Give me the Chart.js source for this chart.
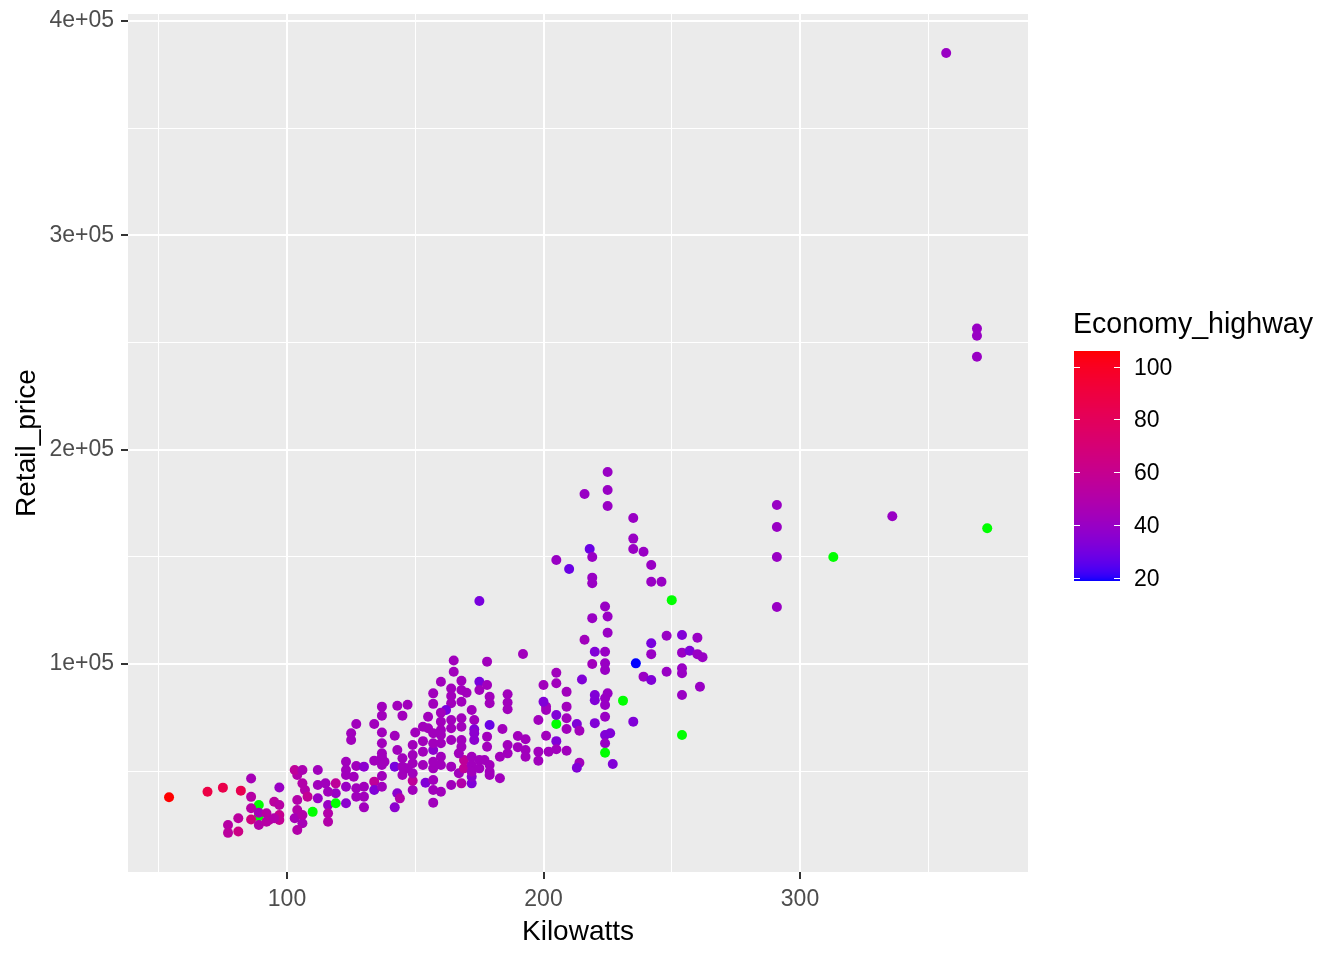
<!DOCTYPE html>
<html><head><meta charset="utf-8">
<script src="https://cdn.jsdelivr.net/npm/chart.js@4.4.1/dist/chart.umd.min.js"></script>
<style>html,body{margin:0;padding:0;background:#fff;}#wrap{width:1344px;height:960px;position:relative;}</style>
</head><body><div id="wrap"><canvas id="c" width="1344" height="960"></canvas></div>
<script>
const kilowatts = [
54,69,75,82,86,97,86,89,89,86,
86,81,77,77,81,89,93,95,97,97,
97,89,92,92,95,104,106,107,104,104,
103,106,104,108,110,112,112,115,116,116,
116,119,119,119,123,123,123,126,127,103,
106,112,106,116,123,127,130,123,127,130,
130,130,134,134,137,127,134,125,125,137,
143,147,137,145,157,157,137,142,150,155,
153,137,137,143,149,149,153,153,157,145,
134,138,142,147,149,153,157,143,144,142,
149,154,157,157,149,149,137,137,137,145,
145,157,157,160,164,168,172,160,160,164,
167,169,169,172,172,175,175,172,177,183,
179,183,192,165,178,165,160,168,168,175,
178,175,170,164,164,164,179,179,186,186,
186,168,162,160,160,160,164,164,168,168,
172,173,173,179,184,178,178,190,193,193,
193,186,155,157,160,160,157,164,168,168,
167,173,173,190,186,179,179,198,198,202,
205,205,209,201,198,205,213,209,214,220,
205,209,201,201,209,200,220,220,209,200,
205,215,205,219,220,216,214,213,172,225,
225,216,225,235,235,235,239,218,219,205,
210,242,219,219,242,246,250,224,225,219,
175,225,224,224,224,236,242,242,248,254,
260,254,257,260,262,239,242,248,254,254,
261,254,225,224,224,231,224,235,224,226,
224,224,227,254,291,291,291,291,313,336,
369,369,369,373,357
];
const retailPrice = [
37800,40400,42300,40900,46600,42400,38000,34200,28800,32700,
27400,28000,24900,21200,21800,24900,27200,35700,34200,29500,
27200,30600,30300,26400,28000,48200,44300,41200,36500,31900,
28000,25700,22500,38100,31000,43500,37300,44300,34200,30300,
26400,44300,39700,35000,42700,35000,48200,47400,38100,50500,
50500,50500,29500,40400,54400,52400,52100,50500,42000,42700,
38100,33100,45100,41200,42700,72000,72000,67700,64500,80100,
80500,81000,75900,75900,86300,81400,68000,66500,68000,75400,
70700,63000,58300,59900,62200,57500,64000,59100,59900,56000,
54900,54400,52100,51300,53700,52900,51300,39700,37300,33100,
41200,44600,41200,35300,45500,49000,56700,52900,47700,52100,
48200,54400,45900,40400,43500,44300,44300,56700,52900,52100,
49000,55200,51300,56700,52900,55200,51300,47400,55200,56700,
48200,46700,104700,101600,101100,96400,91700,92200,87900,91700,
90200,87900,86600,88600,85100,81700,84700,81700,85900,82000,
78900,82400,78500,77300,73100,69200,73900,70000,74700,70700,
78500,73900,69500,71500,69700,66100,61400,66400,64900,59900,
56700,62200,70000,67700,66900,63000,63000,64500,64500,61400,
58300,67700,64500,61200,58300,52900,49700,59100,54900,59100,
64000,60200,59500,66500,73900,72000,72000,69700,68900,72400,
76200,74700,80100,78500,80100,82400,85500,83100,87000,90200,
91000,92800,95900,100000,105700,111300,53900,51600,49700,189600,
181200,179300,173700,168100,158500,153700,152400,153700,149900,148500,
144300,146200,140300,137700,138400,138400,129800,126800,122200,121400,
129400,114600,105700,100300,97200,100300,109700,104600,113200,113500,
112300,105300,106200,104600,103200,94100,92500,96400,98000,95700,
89400,85500,86300,84000,80900,82900,75400,73100,66900,67700,
63000,58600,53300,66900,174200,163900,149900,126600,149900,168900,
256500,253200,243400,163300,385100
];
const economyHighway = [
106,88,86,84,45,40,52,null,null,52,
66,54,52,54,64,50,52,54,52,60,
58,45,52,52,50,50,50,50,50,50,
45,45,50,58,null,43,40,43,40,50,
50,56,40,null,40,36,43,43,43,56,
47,43,50,43,43,43,36,43,43,43,
43,43,56,33,43,43,43,43,43,43,
43,43,43,43,43,43,43,43,43,43,
43,43,43,43,43,43,43,43,36,43,
43,43,31,43,43,43,43,36,50,36,
43,33,43,43,56,43,43,43,43,43,
43,43,43,43,43,50,33,43,43,43,
43,56,56,43,43,43,43,36,43,43,
43,43,43,43,43,43,43,43,43,31,
43,43,43,43,43,43,43,43,43,43,
43,43,31,43,43,43,43,43,43,43,
43,43,33,28,43,43,43,43,43,43,
43,43,43,43,43,43,43,43,43,43,
43,36,36,43,43,43,43,43,43,43,
33,43,43,43,43,null,33,43,43,33,
33,43,43,43,43,33,33,33,43,43,
43,33,43,43,33,43,43,33,43,40,
40,40,40,40,40,40,40,28,40,40,
28,40,40,40,40,40,null,40,40,40,
31,40,40,40,40,18.7,31,40,40,33,
40,40,33,40,40,40,33,40,40,40,
40,40,40,40,40,null,40,33,33,33,
40,null,33,null,40,40,40,40,null,40,
40,40,40,null,40
];
const xTickValues = [100, 200, 300];
const xTickLabels = ['100', '200', '300'];
const yTickValues = [100000, 200000, 300000, 400000];
const yTickLabels = ['1e+05', '2e+05', '3e+05', '4e+05'];
const legendTickValues = [20, 40, 60, 80, 100];
const legendTitle = 'Economy_highway';
const xTitle = 'Kilowatts';
const yTitle = 'Retail_price';

const known = economyHighway.filter(v => v !== null);
const cLo = Math.min(...known), cHi = Math.max(...known);

// Lab interpolation blue -> red (like scales::seq_gradient_pal)
function toLin(c){c/=255;return c<=0.04045?c/12.92:Math.pow((c+0.055)/1.055,2.4);}
function fromLin(c){c=c<=0.0031308?12.92*c:1.055*Math.pow(c,1/2.4)-0.055;return Math.max(0,Math.min(255,Math.round(c*255)));}
const Xn=0.95047,Yn=1,Zn=1.08883;
function f(t){return t>0.008856?Math.cbrt(t):7.787*t+16/116;}
function fi(t){const t3=t*t*t;return t3>0.008856?t3:(t-16/116)/7.787;}
function rgb2lab(r,g,b){r=toLin(r);g=toLin(g);b=toLin(b);
 const X=(0.4124*r+0.3576*g+0.1805*b)/Xn,Y=(0.2126*r+0.7152*g+0.0722*b)/Yn,Z=(0.0193*r+0.1192*g+0.9505*b)/Zn;
 const fx=f(X),fy=f(Y),fz=f(Z);return [116*fy-16,500*(fx-fy),200*(fy-fz)];}
function lab2rgb(L,a,bb){const fy=(L+16)/116,fx=fy+a/500,fz=fy-bb/200;
 const X=fi(fx)*Xn,Y=fi(fy)*Yn,Z=fi(fz)*Zn;
 const r=3.2406*X-1.5372*Y-0.4986*Z,g=-0.9689*X+1.8758*Y+0.0415*Z,b=0.0557*X-0.2040*Y+1.0570*Z;
 return [fromLin(r),fromLin(g),fromLin(b)];}
const labLow=rgb2lab(0,0,255), labHigh=rgb2lab(255,0,0);
function colourFor(v){
  if(v===null) return '#00FF00';
  const t=Math.max(0,Math.min(1,(v-cLo)/(cHi-cLo)));
  const c=lab2rgb(labLow[0]+(labHigh[0]-labLow[0])*t,labLow[1]+(labHigh[1]-labLow[1])*t,labLow[2]+(labHigh[2]-labLow[2])*t);
  return `rgb(${c[0]},${c[1]},${c[2]})`;
}

function withMinor(major){
  const step = major[1]-major[0];
  const out=[major[0]-step/2];
  major.forEach(v=>{out.push(v);out.push(v+step/2);});
  return out;
}
const FONT='"Liberation Sans", Arial, sans-serif';

const panelBg = {
  id:'panelBg',
  beforeDraw(chart){const {ctx,chartArea:a}=chart;ctx.save();ctx.fillStyle='#EBEBEB';ctx.fillRect(a.left,a.top,a.right-a.left,a.bottom-a.top);ctx.restore();}
};
const colourBar = {
  id:'colourBar',
  afterDraw(chart){
    const ctx=chart.ctx;ctx.save();
    const x0=1074,x1=1120,yTop=351,yBot=581,h=yBot-yTop;
    ctx.fillStyle='#000';ctx.font='28.6px '+FONT;ctx.textBaseline='alphabetic';ctx.textAlign='left';
    ctx.fillText(legendTitle,1073,333);
    for(let i=0;i<h;i++){
      const v=cLo+(h-i-0.5)/h*(cHi-cLo);
      ctx.fillStyle=colourFor(v);ctx.fillRect(x0,yTop+i,x1-x0,1);
    }
    ctx.strokeStyle='#FFFFFF';ctx.lineWidth=1;
    ctx.font='23px '+FONT;ctx.textBaseline='middle';ctx.fillStyle='#000';
    legendTickValues.forEach(v=>{
      const y=Math.round(yBot-(v-cLo)/(cHi-cLo)*h)+0.5;
      ctx.beginPath();ctx.moveTo(x0,y);ctx.lineTo(x0+6,y);ctx.moveTo(x1-6,y);ctx.lineTo(x1,y);ctx.stroke();
      ctx.fillText(String(v),1134,y+1);
    });
    ctx.restore();
  }
};

new Chart(document.getElementById('c'),{
  type:'scatter',
  data:{datasets:[{
    data:kilowatts.map((x,i)=>({x:x,y:retailPrice[i]})),
    pointBackgroundColor:economyHighway.map(colourFor),
    pointBorderWidth:0,pointRadius:5,pointHoverRadius:5
  }]},
  plugins:[panelBg,colourBar],
  options:{
    responsive:false,animation:false,devicePixelRatio:1,
    layout:{padding:{left:0,top:14,right:316,bottom:0}},
    plugins:{legend:{display:false},tooltip:{enabled:false}},
    scales:{
      x:{type:'linear',min:38.0,max:388.9,
        afterBuildTicks(s){s.ticks=withMinor(xTickValues).map(v=>({value:v}));},
        afterFit(s){s.height=88;s.paddingLeft=0;s.paddingRight=0;},
        border:{display:false},
        grid:{color:'#FFFFFF',
          lineWidth:c=>xTickValues.includes(c.tick&&c.tick.value)?2:1,
          tickColor:c=>xTickValues.includes(c.tick&&c.tick.value)?'#333333':'rgba(0,0,0,0)',
          tickLength:7,tickWidth:2},
        ticks:{autoSkip:false,maxRotation:0,padding:7,color:'#4D4D4D',font:{family:FONT,size:23},
          callback:v=>{const i=xTickValues.indexOf(v);return i>=0?xTickLabels[i]:'';}},
        title:{display:true,text:xTitle,color:'#000',font:{family:FONT,size:28},padding:{top:0,bottom:11}}
      },
      y:{type:'linear',min:2940,max:403300,
        afterBuildTicks(s){s.ticks=withMinor(yTickValues).map(v=>({value:v}));},
        afterFit(s){s.width=128;s.paddingTop=0;s.paddingBottom=0;},
        border:{display:false},
        grid:{color:'#FFFFFF',
          lineWidth:c=>yTickValues.includes(c.tick&&c.tick.value)?2:1,
          tickColor:c=>yTickValues.includes(c.tick&&c.tick.value)?'#333333':'rgba(0,0,0,0)',
          tickLength:7,tickWidth:2},
        ticks:{autoSkip:false,padding:7,color:'#4D4D4D',font:{family:FONT,size:23},
          callback:v=>{const i=yTickValues.indexOf(v);return i>=0?yTickLabels[i]:'';}},
        title:{display:true,text:yTitle,color:'#000',font:{family:FONT,size:28},padding:{top:10,bottom:0}}
      }
    }
  }
});
</script>
</body></html>
